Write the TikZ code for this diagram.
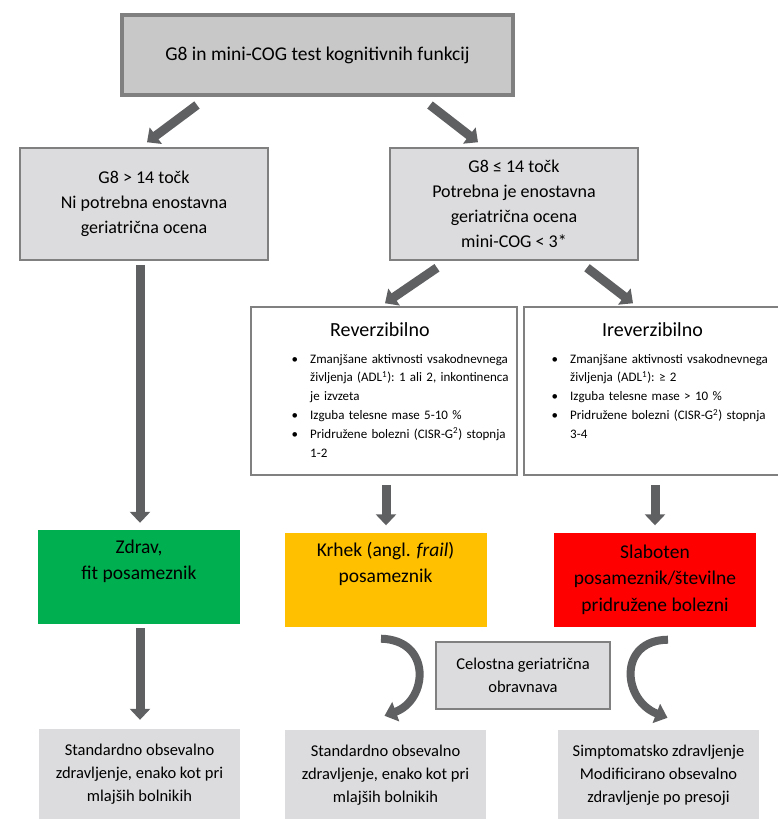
\documentclass[tikz,border=0pt]{standalone}
\usepackage{fontspec}
\setmainfont{Carlito}
\usetikzlibrary{arrows.meta,positioning}
\definecolor{boxgray}{RGB}{220,220,222}
\definecolor{topgray}{RGB}{200,200,200}
\definecolor{linegray}{RGB}{128,128,128}
\definecolor{arrowgray}{RGB}{95,96,98}
\definecolor{fitgreen}{RGB}{0,176,80}
\definecolor{frailorange}{RGB}{255,192,0}
\definecolor{fragred}{RGB}{255,0,0}
\tikzset{
 titlebox/.style
  = {rectangle, draw=linegray, fill=topgray, line width=4pt, minimum width=391pt,
     minimum height=80pt, align=center, font=\fontsize{19.5}{23}\selectfont},
 g8box/.style
  = {rectangle, draw=linegray, fill=boxgray, line width=1.5pt, minimum width=248pt,
     minimum height=112pt, align=center, font=\fontsize{18}{25}\selectfont},
 critbox/.style
  = {rectangle, draw=linegray, fill=white, line width=1.5pt, minimum width=266pt,
     minimum height=168pt},
 crithead/.style
  = {inner sep=0pt, font=\fontsize{20}{24}\selectfont},
 critlist/.style
  = {text width=222pt, align=left, inner sep=0pt, font=\fontsize{13}{18.8}\selectfont},
 statebox/.style
  = {rectangle, minimum width=202pt, minimum height=94pt, align=center, inner sep=0pt,
     font=\fontsize{19.5}{26.5}\selectfont},
 cgabox/.style
  = {rectangle, draw=linegray, fill=boxgray, line width=1.5pt, minimum width=174pt,
     minimum height=67pt, align=center, font=\fontsize{16.5}{23}\selectfont},
 treatbox/.style
  = {rectangle, fill=boxgray, minimum width=201pt, minimum height=90pt, align=center,
     font=\fontsize{16.5}{23}\selectfont},
 blockarrow/.style
  = {draw=arrowgray, line width=9pt, -{Triangle[width=20pt,length=11pt]}},
 curvearrow/.style
  = {draw=arrowgray, line width=8pt, -{Triangle[width=20pt,length=12pt]}},
}
\newcommand{\crititems}[1]{\hyphenpenalty=10000\frenchspacing
  \begin{list}{\textbullet}{\setlength{\leftmargin}{22pt}\setlength{\labelsep}{12pt}%
    \setlength{\labelwidth}{10pt}\setlength{\itemsep}{0pt}\setlength{\parsep}{0pt}%
    \setlength{\topsep}{0pt}\setlength{\partopsep}{0pt}}#1\end{list}}

\begin{document}
\begin{tikzpicture}[x=1pt, y=-1pt]
\useasboundingbox (0,0) rectangle (778,819);

% Screening
\node[titlebox] (screen) at (317.5,55) {G8 in mini-COG test kognitivnih funkcij};

% G8 result
\node[g8box] (g8hi) at (144,204) {G8 > 14 točk\\Ni potrebna enostavna\\geriatrična ocena};
\node[g8box] (g8lo) at (514,204) {G8 ≤ 14 točk\\Potrebna je enostavna\\geriatrična ocena\\mini-COG < 3*};

% Reversible
\node[critbox] (rev) at (384,391) {};
\node[crithead, anchor=west] (revhead) at (330,330) {Reverzibilno};
\node[critlist, anchor=north west] (revlist) at (288,344) {\crititems{%
  \item Zmanjšane aktivnosti vsakodnevnega življenja (ADL\textsuperscript{1}): 1 ali 2, inkontinenca je izvzeta
  \item Izguba telesne mase 5-10~\%
  \item Pridružene bolezni (CISR-G\textsuperscript{2}) stopnja 1-2}};

% Irreversible
\node[critbox] (irev) at (657,391) {};
\node[crithead, anchor=west] (irevhead) at (602,330) {Ireverzibilno};
\node[critlist, anchor=north west] (irevlist) at (548,344) {\crititems{%
  \item Zmanjšane aktivnosti vsakodnevnega življenja (ADL\textsuperscript{1}): ≥ 2
  \item Izguba telesne mase > 10~\%
  \item Pridružene bolezni (CISR-G\textsuperscript{2}) stopnja 3-4}};

% Patient groups
\node[statebox, fill=fitgreen] (fit) at (139,577) {Zdrav,\\fit posameznik\\\strut};
\node[statebox, fill=frailorange] (frail) at (385.5,579.5) {Krhek (angl. \textit{frail})\\posameznik\\\strut};
\node[statebox, fill=fragred] (frag) at (655,579.5) {Slaboten\\posameznik/številne\\pridružene bolezni};

% Geriatric assessment
\node[cgabox] (cga) at (523,675.5) {Celostna geriatrična\\obravnava};

% Treatment
\node[treatbox] (std1) at (139.5,774) {Standardno obsevalno\\zdravljenje, enako kot pri\\mlajših bolnikih};
\node[treatbox] (std2) at (385.5,775) {Standardno obsevalno\\zdravljenje, enako kot pri\\mlajših bolnikih};
\node[treatbox] (symp) at (658.5,775) {Simptomatsko zdravljenje\\Modificirano obsevalno\\zdravljenje po presoji};

% Arrows
\draw[blockarrow] ([shift={(-120.5,8)}]screen.south) -- ([shift={(3,-5)}]g8hi.north);
\draw[blockarrow] ([shift={(112.5,8)}]screen.south) -- ([shift={(-36,-5)}]g8lo.north);
\draw[blockarrow] ([shift={(-77,7)}]g8lo.south) -- ([shift={(1,-3)}]rev.north);
\draw[blockarrow] ([shift={(73,7)}]g8lo.south) -- ([shift={(-24,-3)}]irev.north);
\draw[blockarrow] ([shift={(-4,4)}]g8hi.south) -- ([shift={(1,-7)}]fit.north);
\draw[blockarrow] ([shift={(2,9)}]rev.south) -- ([shift={(0.5,-7)}]frail.north);
\draw[blockarrow] ([shift={(-2,9)}]irev.south) -- ([shift={(0,-7)}]frag.north);
\draw[blockarrow] ([shift={(1,4)}]fit.south) -- ([shift={(0.5,-9)}]std1.north);
\draw[curvearrow] ([shift={(-4.5,12)}]frail.south) .. controls (432,640) and (428,700) .. ([shift={(-1,-14)}]std2.north);
\draw[curvearrow] ([shift={(13,13)}]frag.south) .. controls (618,640) and (622,700) .. ([shift={(9,-12)}]symp.north);

\end{tikzpicture}
\end{document}
